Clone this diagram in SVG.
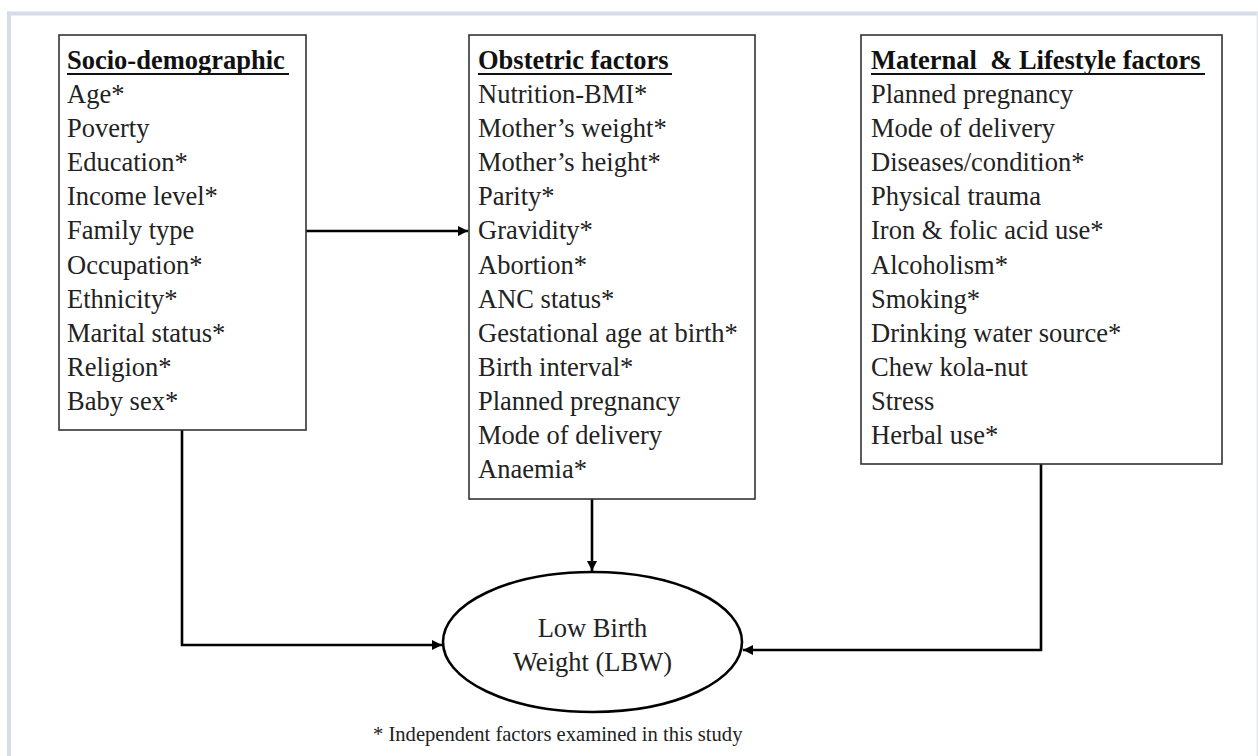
<svg xmlns="http://www.w3.org/2000/svg" width="1258" height="756" viewBox="0 0 1258 756">
<style>
.box{fill:#fff;stroke:#333;stroke-width:1.6}
.t{font-family:"Liberation Serif","Times New Roman",serif;font-size:26.5px;fill:#222}
.h{font-weight:bold;fill:#111}
.ul{stroke:#111;stroke-width:2}
.c{fill:none;stroke:#000;stroke-width:2.6;marker-end:url(#ah)}
.frame{fill:#d6dde7}
</style>
<defs>
<marker id="ah" viewBox="0 0 10 10" refX="10" refY="5" markerWidth="4" markerHeight="4" orient="auto" markerUnits="strokeWidth">
<path d="M0,0 L10,5 L0,10 z" fill="#000"/>
</marker>
</defs>
<rect width="1258" height="756" fill="#fff"/>
<g id="frame">
<rect class="frame" x="7" y="11.5" width="1251" height="4"/>
<rect class="frame" x="7" y="11.5" width="4" height="745"/>
<rect x="1256.5" y="11.5" width="1.5" height="745" fill="#e3e7ec"/>
</g>
<g id="connectors">
<path class="c" d="M306,231 H468"/>
<path class="c" d="M182,430 V645 H442"/>
<path class="c" d="M592,499 V571"/>
<path class="c" d="M1041,464 V650 H743"/>
</g>
<g id="socio">
<rect class="box" x="59" y="35" width="247" height="395"/>
<text class="t h" x="67" y="69">Socio-demographic</text>
<line class="ul" x1="67" y1="74" x2="289" y2="74"/>
<text class="t" x="67" y="103">Age*</text>
<text class="t" x="67" y="137.1">Poverty</text>
<text class="t" x="67" y="171.2">Education*</text>
<text class="t" x="67" y="205.3">Income level*</text>
<text class="t" x="67" y="239.4">Family type</text>
<text class="t" x="67" y="273.5">Occupation*</text>
<text class="t" x="67" y="307.6">Ethnicity*</text>
<text class="t" x="67" y="341.7">Marital status*</text>
<text class="t" x="67" y="375.8">Religion*</text>
<text class="t" x="67" y="409.9">Baby sex*</text>
</g>
<g id="obstetric">
<rect class="box" x="469" y="35" width="286" height="464"/>
<text class="t h" x="478" y="69">Obstetric factors</text>
<line class="ul" x1="478" y1="74" x2="672" y2="74"/>
<text class="t" x="478" y="103">Nutrition-BMI*</text>
<text class="t" x="478" y="137.1">Mother’s weight*</text>
<text class="t" x="478" y="171.2">Mother’s height*</text>
<text class="t" x="478" y="205.3">Parity*</text>
<text class="t" x="478" y="239.4">Gravidity*</text>
<text class="t" x="478" y="273.5">Abortion*</text>
<text class="t" x="478" y="307.6">ANC status*</text>
<text class="t" x="478" y="341.7">Gestational age at birth*</text>
<text class="t" x="478" y="375.8">Birth interval*</text>
<text class="t" x="478" y="409.9">Planned pregnancy</text>
<text class="t" x="478" y="444">Mode of delivery</text>
<text class="t" x="478" y="478.1">Anaemia*</text>
</g>
<g id="maternal">
<rect class="box" x="861" y="35" width="361" height="429"/>
<text class="t h" x="871" y="69" xml:space="preserve">Maternal  &amp; Lifestyle factors</text>
<line class="ul" x1="871" y1="74" x2="1205" y2="74"/>
<text class="t" x="871" y="103">Planned pregnancy</text>
<text class="t" x="871" y="137.1">Mode of delivery</text>
<text class="t" x="871" y="171.2">Diseases/condition*</text>
<text class="t" x="871" y="205.3">Physical trauma</text>
<text class="t" x="871" y="239.4">Iron &amp; folic acid use*</text>
<text class="t" x="871" y="273.5">Alcoholism*</text>
<text class="t" x="871" y="307.6">Smoking*</text>
<text class="t" x="871" y="341.7">Drinking water source*</text>
<text class="t" x="871" y="375.8">Chew kola-nut</text>
<text class="t" x="871" y="409.9">Stress</text>
<text class="t" x="871" y="444">Herbal use*</text>
</g>
<g id="lbw">
<ellipse cx="592.5" cy="642" rx="149.5" ry="70" fill="#fff" stroke="#000" stroke-width="2.6"/>
<text class="t" x="592.5" y="637" text-anchor="middle">Low Birth</text>
<text class="t" x="592.5" y="671" text-anchor="middle">Weight (LBW)</text>
</g>
<g id="note">
<text class="t" x="373" y="741" style="font-size:20.6px">* Independent factors examined in this study</text>
</g>
</svg>
